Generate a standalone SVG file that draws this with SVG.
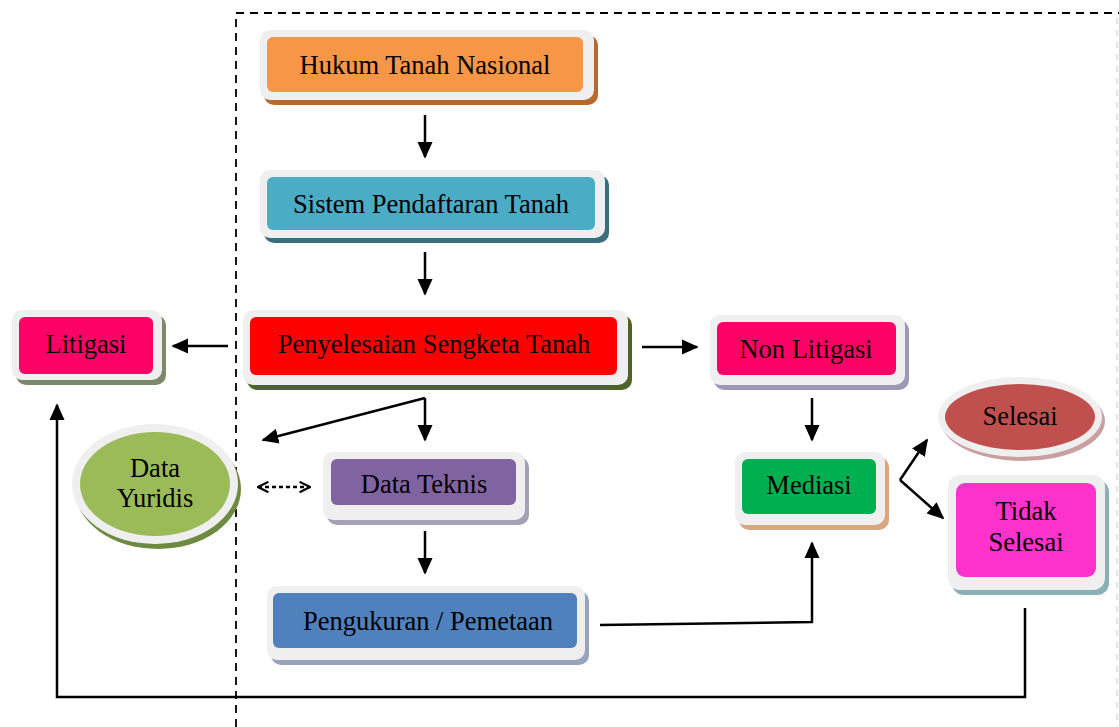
<svg xmlns="http://www.w3.org/2000/svg" width="1119" height="727" viewBox="0 0 1119 727">
<defs>
<style>
text{font-family:"Liberation Serif","Times New Roman",serif;font-size:26.5px;fill:#000;text-anchor:middle}
.frame{fill:#EFEFEF}
.conn{stroke:#000;stroke-width:2.5;fill:none}
.dash{stroke:#000;stroke-width:1.8;fill:none;stroke-dasharray:8,6}
</style>
<marker id="ah" viewBox="0 0 10 10" refX="9" refY="5" markerWidth="17" markerHeight="17" orient="auto" markerUnits="userSpaceOnUse">
<path d="M0,0.5 L10,5 L0,9.5 z" fill="#000"/>
</marker>
<marker id="av" viewBox="0 0 10 10" refX="9" refY="5" markerWidth="13" markerHeight="13" orient="auto-start-reverse" markerUnits="userSpaceOnUse">
<path d="M1,1 L9,5 L1,9" fill="none" stroke="#000" stroke-width="1.6"/>
</marker>
</defs>
<rect width="1119" height="727" fill="#fff"/>
<path class="dash" d="M236,727 V13 H1119"/>
<path d="M1117,18 V727" stroke="#E0E0E0" stroke-width="1.5" stroke-dasharray="6,6" fill="none"/>

<g id="hukum">
<rect x="264" y="35" width="334" height="70" rx="10" fill="#B86A2C"/>
<rect class="frame" x="260" y="30" width="334" height="70" rx="10"/>
<rect x="267" y="37" width="316" height="55" rx="6" fill="#F79646"/>
<text x="425" y="74">Hukum Tanah Nasional</text>
</g>
<g id="sistem">
<rect x="264" y="175" width="345" height="68" rx="10" fill="#3B6E7D"/>
<rect class="frame" x="260" y="170" width="345" height="68" rx="10"/>
<rect x="267" y="177" width="328" height="53" rx="6" fill="#4BACC6"/>
<text x="431" y="213">Sistem Pendaftaran Tanah</text>
</g>
<g id="penyelesaian">
<rect x="247" y="315" width="385" height="75" rx="10" fill="#4F6228"/>
<rect class="frame" x="243" y="310" width="385" height="75" rx="10"/>
<rect x="250" y="317" width="367" height="58" rx="6" fill="#FF0000"/>
<text x="434" y="353">Penyelesaian Sengketa Tanah</text>
</g>
<g id="litigasi">
<rect x="16" y="315" width="150" height="70" rx="10" fill="#7A8A6A"/>
<rect class="frame" x="12" y="310" width="150" height="70" rx="10"/>
<rect x="19" y="317" width="134" height="57" rx="6" fill="#FF0066"/>
<text x="86" y="353">Litigasi</text>
</g>
<g id="nonlitigasi">
<rect x="714" y="320" width="195" height="70" rx="10" fill="#9E98B5"/>
<rect class="frame" x="710" y="315" width="195" height="70" rx="10"/>
<rect x="717" y="322" width="179" height="53" rx="6" fill="#FF0066"/>
<text x="806" y="358">Non Litigasi</text>
</g>
<g id="mediasi">
<rect x="739" y="457" width="150" height="73" rx="10" fill="#D9A77F"/>
<rect class="frame" x="735" y="452" width="150" height="73" rx="10"/>
<rect x="742" y="459" width="134" height="55" rx="6" fill="#00B050"/>
<text x="809" y="494">Mediasi</text>
</g>
<g id="selesai">
<ellipse cx="1023" cy="421" rx="82" ry="40" fill="#C9A0A0"/>
<ellipse class="frame" cx="1020" cy="417" rx="82" ry="40"/>
<ellipse cx="1020" cy="417" rx="75" ry="33" fill="#C0504D"/>
<text x="1020" y="425">Selesai</text>
</g>
<g id="tidakselesai">
<rect x="952" y="480" width="157" height="115" rx="12" fill="#8AAFB5"/>
<rect class="frame" x="948" y="475" width="157" height="115" rx="12"/>
<rect x="956" y="483" width="140" height="94" rx="9" fill="#FF33CC"/>
<text x="1026" y="520">Tidak</text>
<text x="1026" y="551">Selesai</text>
</g>
<g id="datayuridis">
<ellipse cx="158" cy="489" rx="83" ry="60" fill="#6E8A40"/>
<ellipse class="frame" cx="155" cy="484" rx="83" ry="60"/>
<ellipse cx="155" cy="484" rx="75" ry="52" fill="#9BBB59"/>
<text x="155" y="477">Data</text>
<text x="155" y="507">Yuridis</text>
</g>
<g id="datateknis">
<rect x="327" y="457" width="202" height="68" rx="10" fill="#A5A0B5"/>
<rect class="frame" x="323" y="452" width="202" height="68" rx="10"/>
<rect x="331" y="459" width="185" height="46" rx="6" fill="#8064A2"/>
<text x="424" y="493">Data Teknis</text>
</g>
<g id="pengukuran">
<rect x="271" y="591" width="318" height="74" rx="10" fill="#98A3BC"/>
<rect class="frame" x="267" y="586" width="318" height="74" rx="10"/>
<rect x="273" y="593" width="304" height="55" rx="6" fill="#4F81BD"/>
<text x="428" y="630">Pengukuran / Pemetaan</text>
</g>

<g id="connectors">
<path class="conn" d="M425,115 V157" marker-end="url(#ah)"/>
<path class="conn" d="M425,252 V294" marker-end="url(#ah)"/>
<path class="conn" d="M228,346 H173" marker-end="url(#ah)"/>
<path class="conn" d="M642,347 H697" marker-end="url(#ah)"/>
<path class="conn" d="M425,398 V440" marker-end="url(#ah)"/>
<path class="conn" d="M425,398 L263,440" marker-end="url(#ah)"/>
<path class="conn" d="M258,487 H310" stroke-dasharray="4,3" stroke-width="1.8" marker-start="url(#av)" marker-end="url(#av)"/>
<path class="conn" d="M425,531 V573" marker-end="url(#ah)"/>
<path class="conn" d="M812,398 V440" marker-end="url(#ah)"/>
<path class="conn" d="M600,625 L812,622 V543" marker-end="url(#ah)"/>
<path class="conn" d="M900,480 L943,518" marker-end="url(#ah)"/>
<path class="conn" d="M900,480 L927,440" marker-end="url(#ah)"/>
<path class="conn" d="M1025,608 V697 H57 V405" marker-end="url(#ah)"/>
</g>
</svg>
